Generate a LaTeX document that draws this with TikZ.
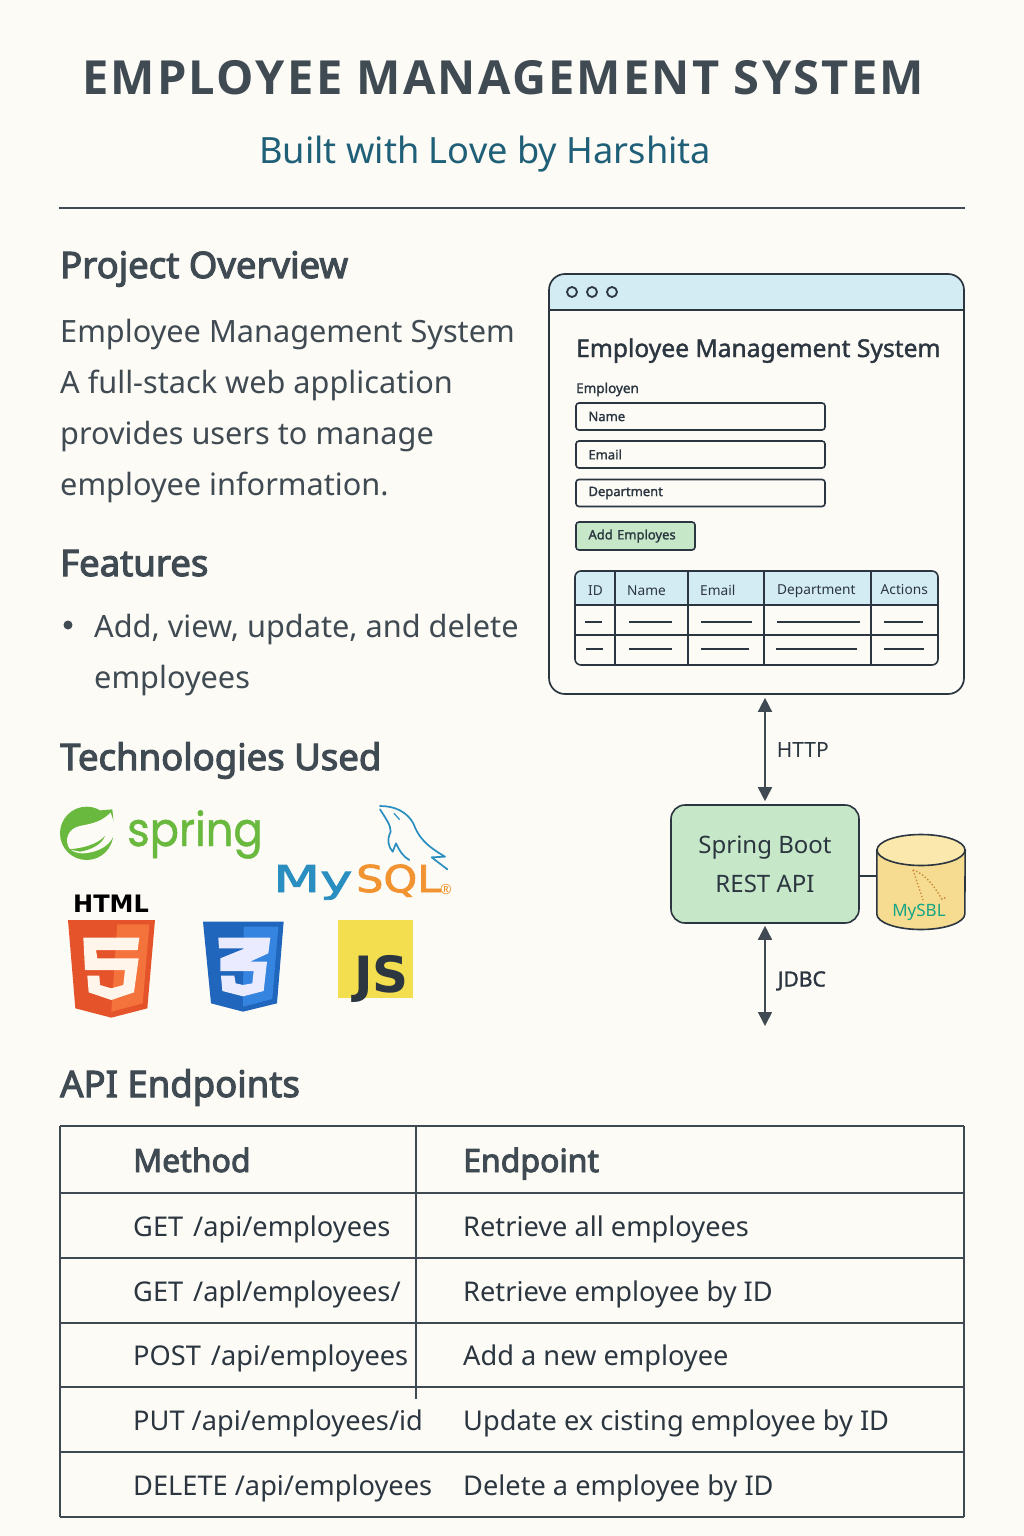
\documentclass[tikz,border=0pt]{standalone}
\usepackage{fontspec}
\usepackage{tikz}
\usetikzlibrary{shapes, arrows.meta, positioning}
\setmainfont{Noto Sans}
\newfontfamily\midfont[FakeBold=3]{Noto Sans}
\newfontfamily\smallfont[FakeBold=1.5]{Noto Sans}
\newfontfamily\titlefont[LetterSpace=4.7]{Open Sans}
\newfontfamily\logofont[FakeBold=1]{Poppins}
\newfontfamily\widefont[FakeBold=2]{DejaVu Sans}
\newfontfamily\heavyfont{DejaVu Sans}
\definecolor{paper}{HTML}{FDFBF6}
\definecolor{ink}{HTML}{3F4A52}
\definecolor{darkink}{HTML}{2B3640}
\definecolor{teal}{HTML}{1F6078}
\definecolor{barblue}{HTML}{D3EBF3}
\definecolor{mint}{HTML}{C6E8C8}
\definecolor{dbyellow}{HTML}{F6DC90}
\definecolor{dbtop}{HTML}{FAE8AC}
\definecolor{dbgreen}{HTML}{14A585}
\definecolor{feather}{HTML}{C8893A}
\definecolor{springgreen}{HTML}{6AB93F}
\definecolor{mysqlblue}{HTML}{2A8FC0}
\definecolor{mysqlorange}{HTML}{F29331}
\definecolor{htmlred}{HTML}{E5532A}
\definecolor{htmllight}{HTML}{F4733D}
\definecolor{cssblue}{HTML}{1F66BC}
\definecolor{csslight}{HTML}{3484E0}
\definecolor{jsyellow}{HTML}{F2DE4E}
\tikzstyle{txt} = [anchor=base west, inner sep=0pt, text=ink]
\tikzstyle{heading} = [txt, font=\fontsize{36.5}{40}\selectfont\midfont]
\tikzstyle{body} = [txt, font=\fontsize{30.7}{36}\selectfont]
\tikzstyle{cell} = [txt, text=darkink, font=\fontsize{27.2}{34}\selectfont]
\tikzstyle{headcell} = [txt, font=\fontsize{32}{38}\selectfont\midfont]
\tikzstyle{field} = [draw=darkink, line width=1.6pt, rounded corners=3pt, minimum width=249pt, minimum height=27pt, text width=224pt, inner xsep=12.5pt, inner ysep=0pt, align=left, text=darkink, font=\fontsize{13}{15}\selectfont\smallfont]
\tikzstyle{minihead} = [txt, text=darkink, font=\fontsize{13.7}{16}\selectfont]
\tikzstyle{rule} = [draw=darkink, line width=1.5pt]
\tikzstyle{tableline} = [draw=ink, line width=1.6pt]
\tikzstyle{link} = [draw=ink, line width=1.6pt, {Triangle[length=14pt,width=14pt]}-{Triangle[length=14pt,width=14pt]}]

\begin{document}
\begin{tikzpicture}[x=1pt,y=-1pt]
  \fill[paper] (0,0) rectangle (1024,1536);
  \useasboundingbox (0,0) rectangle (1024,1536);

  % header
  \node[txt, font=\fontsize{47}{56}\selectfont\titlefont\bfseries] (title) at (82,95) {EMPLOYEE MANAGEMENT SYSTEM};
  \node[txt, text=teal, font=\fontsize{36.2}{42}\selectfont] (subtitle) at (259,163) {Built with Love by Harshita};
  \coordinate (ruleleft) at (59,208);
  \coordinate (ruleright) at (965,208);
  \draw[draw=ink, line width=1.5pt] (ruleleft) -- (ruleright);

  % left column
  \node[heading] (overview) at (60,278) {Project Overview};
  \node[body] (line1) at (60,342) {Employee Management System};
  \node[body] (line2) at (60,393) {A full-stack web application};
  \node[body] (line3) at (60,444) {provides users to manage};
  \node[body] (line4) at (60,495) {employee information.};
  \node[heading] (features) at (60,576) {Features};
  \node[circle, fill=ink, inner sep=0pt, minimum size=9pt] (bullet) at (68,625) {};
  \node[body] (feature1) at (94,637) {Add, view, update, and delete};
  \node[body] (feature2) at (94,688) {employees};
  \node[heading] (tech) at (60,770) {Technologies Used};

  % spring logo
  \begin{scope}[shift={(55,800)}, x=0.3333pt, y=-0.3333pt]
    \fill[springgreen] (95,100) circle (80) (125,32) -- (172,28) -- (178,90) -- cycle;
    \fill[paper] (167,38) .. controls (135,70) and (100,72) .. (75,78) .. controls (40,85) and (25,120) .. (45,148) .. controls (60,158) and (70,160) .. (85,160) .. controls (130,158) and (190,130) .. (178,70) -- cycle;
    \fill[springgreen] (42,148) .. controls (80,145) and (125,135) .. (150,108) .. controls (140,135) and (105,150) .. (75,155) -- cycle;
  \end{scope}
  \node[txt, text=springgreen, xscale=0.92, font=\fontsize{47}{54}\selectfont\logofont] (springword) at (127,846) {spring};

  % mysql logo
  \begin{scope}[shift={(370,800)}, x=0.3333pt, y=-0.3333pt]
    \draw[mysqlblue, line width=1.7pt, line cap=round, line join=round] (30,18) .. controls (75,18) and (110,35) .. (130,70) .. controls (145,110) and (165,135) .. (225,170) -- (185,172) -- (232,208);
    \draw[mysqlblue, line width=1.7pt, line cap=round, line join=round] (30,28) .. controls (50,60) and (62,75) .. (62,95) .. controls (50,120) and (55,140) .. (68,155) -- (78,130) .. controls (90,155) and (100,170) .. (118,180);
    \draw[mysqlblue, line width=1.2pt, line cap=round] (72,40) -- (88,58);
  \end{scope}
  \node[anchor=base west, inner sep=0pt, text=mysqlblue, xscale=1.47, font=\fontsize{37}{42}\selectfont\widefont] (myword) at (273,892) {My};
  \node[anchor=base west, inner sep=0pt, text=mysqlorange, xscale=1.16, font=\fontsize{37}{42}\selectfont\widefont] (sqlword) at (356,892) {SQL};
  \node[anchor=center, inner sep=0pt, text=mysqlorange, font=\fontsize{14}{16}\selectfont] (regmark) at (446,889) {®};

  % html logo
  \node[txt, text=black, font=\fontsize{24}{26}\selectfont\heavyfont\bfseries] (htmlword) at (73,912) {HTML};
  \begin{scope}[shift={(60,915)}, x=0.3333pt, y=-0.3333pt]
    \fill[htmlred] (24,15) -- (285,15) -- (262,280) -- (154,308) -- (46,280) -- cycle;
    \fill[htmllight] (172,28) -- (268,28) -- (248,265) -- (154,290) -- cycle;
    \fill[white!92!orange] (70,68) -- (238,68) -- (233,105) -- (108,105) -- (112,130) -- (236,130) -- (222,232) -- (154,255) -- (86,232) -- (82,182) -- (118,182) -- (120,210) -- (154,220) -- (190,210) -- (195,165) -- (75,165) -- cycle;
  \end{scope}

  % css logo
  \begin{scope}[shift={(195,915)}, x=0.3333pt, y=-0.3333pt]
    \fill[cssblue] (24,20) -- (266,20) -- (246,265) -- (144,290) -- (48,265) -- cycle;
    \fill[csslight] (146,35) -- (250,35) -- (232,252) -- (144,275) -- cycle;
    \fill[white!92!blue] (70,68) -- (226,68) -- (220,115) -- (165,140) -- (216,140) -- (206,228) -- (144,244) -- (82,228) -- (78,182) -- (118,182) -- (122,205) -- (144,210) -- (172,205) -- (176,168) -- (76,168) -- (76,130) -- (150,100) -- (72,100) -- cycle;
  \end{scope}

  % js logo
  \node[rectangle, fill=jsyellow, minimum width=75pt, minimum height=78pt, inner sep=0pt] (jsbox) at (375.5,959) {};
  \node[anchor=base east, inner sep=0pt, text=darkink, font=\fontsize{50}{56}\selectfont\heavyfont\bfseries] (jsword) at (409,992) {JS};

  % window
  \fill[barblue] (549,310) [rounded corners=16pt] -- (549,274) -- (964,274) [sharp corners] -- (964,310) -- cycle;
  \node[rectangle, draw=darkink, line width=1.7pt, rounded corners=16pt, minimum width=415pt, minimum height=420pt] (window) at (756.5,484) {};
  \coordinate (barleft) at (549,310);
  \coordinate (barright) at (964,310);
  \draw[rule] (barleft) -- (barright);
  \node[circle, draw=darkink, line width=1.8pt, minimum size=10pt, inner sep=0pt] (dot1) at (572,292) {};
  \node[circle, draw=darkink, line width=1.8pt, minimum size=10pt, inner sep=0pt, right of=dot1, node distance=20pt] (dot2) {};
  \node[circle, draw=darkink, line width=1.8pt, minimum size=10pt, inner sep=0pt, right of=dot2, node distance=20pt] (dot3) {};
  \node[txt, text=darkink, font=\fontsize{24.6}{30}\selectfont\smallfont] (apptitle) at (576,357) {Employee Management System};
  \node[txt, text=darkink, font=\fontsize{13.5}{16}\selectfont\smallfont] (formlabel) at (576,393) {Employen};
  \node[field] (namefield) at (700.5,416.5) {Name};
  \node[field] (emailfield) at (700.5,454.5) {Email};
  \node[field] (deptfield) at (700.5,493) {Department};
  \node[field, fill=mint, minimum width=119pt, text width=94pt, minimum height=28pt] (addbutton) at (635.5,536) {Add Employes};

  % small table
  \fill[barblue] (575,605) [rounded corners=6pt] -- (575,571) -- (938,571) [sharp corners] -- (938,605) -- cycle;
  \node[rectangle, draw=darkink, line width=1.6pt, rounded corners=6pt, minimum width=363pt, minimum height=94pt] (minitable) at (756.5,618) {};
  \foreach \y in {605,635}
    \draw[rule] (575,\y) -- (938,\y);
  \foreach \x in {615,688,764,871}
    \draw[rule] (\x,571) -- (\x,665);
  \node[minihead] (headid) at (588,595) {ID};
  \node[minihead] (headname) at (627,595) {Name};
  \node[minihead] (heademail) at (700,595) {Email};
  \node[minihead] (headdept) at (777,594) {Department};
  \node[minihead] (headact) at (880.5,594.5) {Actions};
  \foreach \a/\b in {585/602,629/672,701/752,777/860,884/923}
    \draw[rule, line width=1.2pt] (\a,622) -- (\b,622);
  \foreach \a/\b in {586/603,629/672,701/749,776/857,884/924}
    \draw[rule, line width=1.2pt] (\a,649) -- (\b,649);

  % server and database
  \node[rectangle, draw=darkink, line width=1.6pt, fill=mint, rounded corners=14pt, minimum width=188pt, minimum height=118pt, align=center, text=darkink, font=\fontsize{24}{39}\selectfont] (api) at (765,864) {Spring Boot\\REST API};
  \node[rectangle, minimum width=88pt, minimum height=95pt, inner sep=0pt, right of=api, node distance=156pt, yshift=-17.5pt] (db) {};
  \draw[draw=darkink, line width=1.2pt] ([yshift=-12pt]api.east) -- ([yshift=-12pt]api.east -| db.west);
  \filldraw[fill=dbyellow, draw=darkink, line width=1.6pt] (db.west |- 0,850) -- (db.west |- 0,914) arc[start angle=180, end angle=0, x radius=44, y radius=15.5] -- (db.east |- 0,850) -- cycle;
  \filldraw[fill=dbtop, draw=darkink, line width=1.6pt] (db.center |- 0,850) ellipse [x radius=44, y radius=15.5];
  \draw[draw=feather, line width=1.4pt, dotted] (913,870) -- (923,900);
  \draw[draw=feather, line width=1.4pt, dotted] (913,870) .. controls (928,875) and (936,890) .. (942,899) -- (947,897);
  \node[inner sep=0pt, text=dbgreen, font=\fontsize{17}{20}\selectfont] (dblabel) at (919,912) {MySBL};

  % connectors
  \coordinate (jdbcend) at (765,1026);
  \draw[link] ([yshift=-3pt]window.south -| api) -- node[pos=0.5, right=11pt, inner sep=0pt, text=darkink, font=\fontsize{21}{24}\selectfont] (httplabel) {HTTP} ([yshift=3pt]api.north);
  \draw[link] ([yshift=-2pt]api.south) -- node[pos=0.55, right=12pt, inner sep=0pt, text=darkink, font=\fontsize{21}{24}\selectfont\smallfont] (jdbclabel) {JDBC} (jdbcend);

  % endpoints
  \node[heading] (apihead) at (60,1097) {API Endpoints};
  \foreach \y in {1126,1193,1258,1323,1387,1452,1517}
    \draw[tableline] (60,\y) -- (964,\y);
  \draw[tableline] (60,1126) -- (60,1517);
  \draw[tableline] (964,1126) -- (964,1517);
  \draw[tableline] (416,1126) -- (416,1399);
  \node[headcell] (methodhead) at (133,1172) {Method};
  \node[headcell] (endpointhead) at (463,1172) {Endpoint};
  \node[cell] (method1) at (133,1236) {GET\hspace{10pt}/api/employees};
  \node[cell] (desc1) at (463,1236) {Retrieve all employees};
  \node[cell] (method2) at (133,1301) {GET\hspace{10pt}/apl/employees/};
  \node[cell] (desc2) at (463,1301) {Retrieve employee by ID};
  \node[cell] (method3) at (133,1365) {POST\hspace{10pt}/api/employees};
  \node[cell] (desc3) at (463,1365) {Add a new employee};
  \node[cell] (method4) at (133,1430) {PUT /api/employees/id};
  \node[cell] (desc4) at (463,1430) {Update ex cisting employee by ID};
  \node[cell] (method5) at (133,1495) {DELETE /api/employees};
  \node[cell] (desc5) at (463,1495) {Delete a employee by ID};
\end{tikzpicture}
\end{document}
